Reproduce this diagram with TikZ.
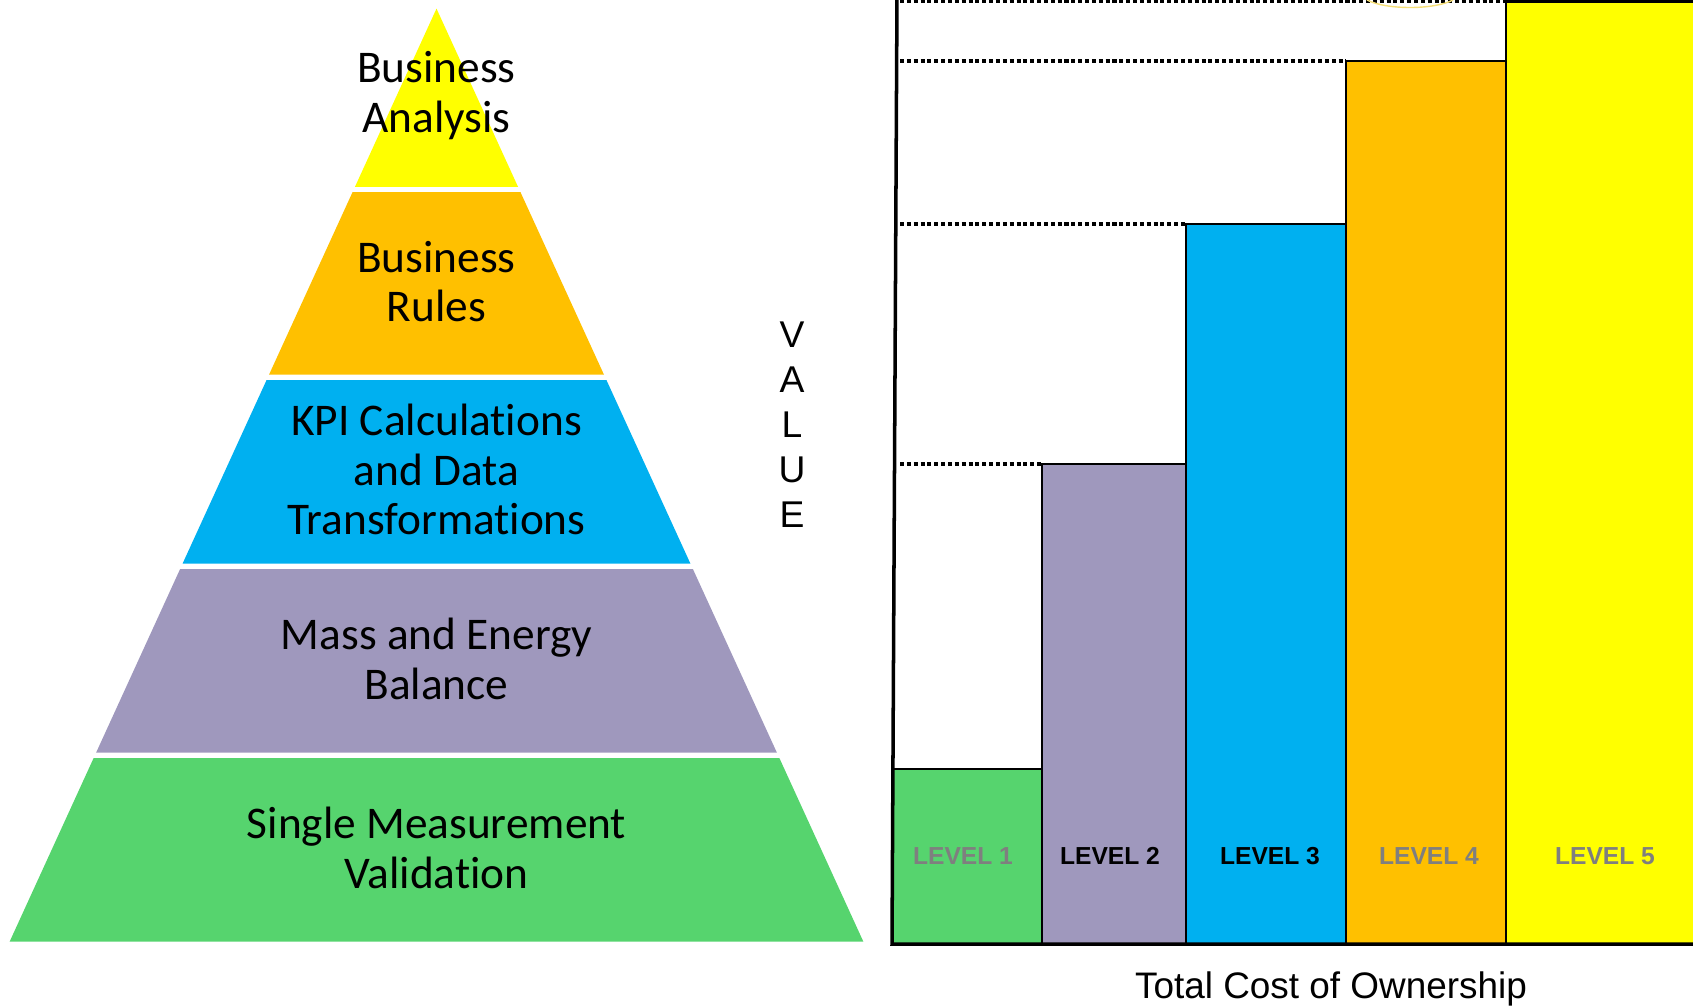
\documentclass[tikz,border=0pt]{standalone}
\usepackage{fontspec}
\setmainfont{Liberation Sans}
\newfontfamily\calibri[Ligatures=NoCommon]{Carlito}
\usetikzlibrary{positioning}

\definecolor{lvlgreen}{HTML}{56D46E}
\definecolor{lvlpurple}{HTML}{9F98BD}
\definecolor{lvlblue}{HTML}{00B0F0}
\definecolor{lvlorange}{HTML}{FFC000}
\definecolor{lvlyellow}{HTML}{FFFF00}
\definecolor{lvlgray}{HTML}{7F7F7F}
\definecolor{arcgold}{HTML}{F6DF78}

\begin{document}
\begin{tikzpicture}[x=0.1mm, y=-0.1mm,
    layer/.style={font=\calibri\fontsize{12.9}{14.1}\selectfont, align=center},
    bar/.style={draw=black, line width=0.75pt},
    level/.style={font=\bfseries\fontsize{7}{8}\selectfont},
    guide/.style={line width=0.95pt, dash pattern=on 1.15pt off 0.8pt}]
\useasboundingbox (0,0) rectangle (1693,1006);

% Pyramid (apex at x=436.5, flanks widen 0.4575 per unit down)
\foreach \i/\ytop/\ybot/\col/\txt in {
    1/8.6/186.8/lvlyellow/{Business\\Analysis},
    2/192.2/374.7/lvlorange/{Business\\Rules},
    3/380/563.6/lvlblue/{KPI Calculations\\and Data\\Transformations},
    4/569/752.5/lvlpurple/{Mass and Energy\\Balance},
    5/758/941.5/lvlgreen/{Single Measurement\\Validation}} {
    \pgfmathsetmacro\wt{0.4575*(\ytop-8.6)}
    \pgfmathsetmacro\wb{0.4575*(\ybot-8.6)}
    \fill[\col] ({436.5-\wt},\ytop) -- ({436.5+\wt},\ytop) -- ({436.5+\wb},\ybot) -- ({436.5-\wb},\ybot) -- cycle;
    \node[layer] (layer\i) at (436.5,{(\ytop+\ybot)/2-2}) {\txt};
}

% Vertical axis label
\node[font=\fontsize{10.6}{12.8}\selectfont, align=center] (value) at (792,425) {V\\A\\L\\U\\E};

% Bars
\foreach \i/\xl/\xr/\yt/\col in {1/892/1042/769/lvlgreen, 2/1042/1186/464/lvlpurple,
    3/1186/1346/224/lvlblue, 4/1346/1506/61/lvlorange, 5/1506/1705/1.5/lvlyellow} {
    \draw[bar, fill=\col] (\xl,944) rectangle (\xr,\yt);
    \coordinate (top\i) at (\xl,\yt);
    \coordinate (g\i) at (900,\yt);
}
\foreach \i/\x/\col in {1/963/lvlgray, 2/1110/black, 3/1270/black, 4/1429/lvlgray, 5/1605/lvlgray}
    \node[level, text=\col] (lvl\i) at (\x,856) {LEVEL \i};

% Dotted guides from the axis to each bar top
\foreach \i in {2,...,5}
    \draw[guide] (g\i) -- (top\i);
\draw[arcgold, line width=0.4pt] (1367,0) .. controls (1386,10) and (1434,10) .. (1453,0);

% Axes
\coordinate (origin) at (892,944);
\coordinate (ymax) at (897,-5);
\coordinate (xmax) at (1705,944);
\draw[line width=1pt] (ymax) -- (origin) -- (xmax);
\node[font=\fontsize{10.5}{12}\selectfont] (tco) at (1331,989) {Total Cost of Ownership};
\end{tikzpicture}
\end{document}
